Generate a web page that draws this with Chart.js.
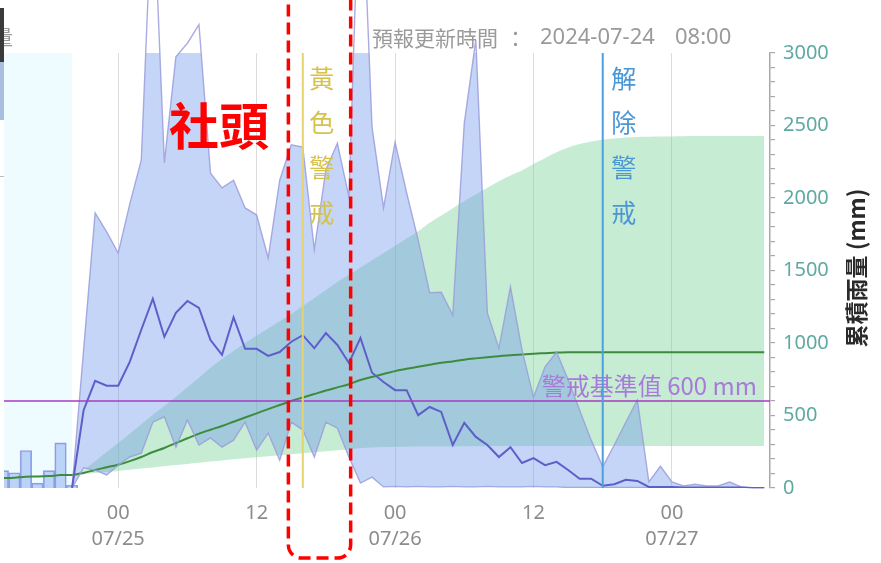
<!DOCTYPE html>
<html>
<head>
<meta charset="utf-8">
<script src="https://cdn.jsdelivr.net/npm/chart.js@4.4.1/dist/chart.umd.min.js"></script>
<style>
  html, body { margin: 0; padding: 0; background: #fff; }
  #wrap { position: relative; width: 881px; height: 563px; overflow: hidden; }
</style>
</head>
<body>
<div id="wrap"><canvas id="chart" width="881" height="563"></canvas></div>
<script>
'use strict';

// hours are counted from 2024-07-25 00:00
const obsHours = [-10, -9, -8, -7, -6, -5, -4];
const obsRain = [3.2, 2.8, 6.9, 0.9, 3.2, 8.3, 0.5];
const obsCum = [68, 71, 78, 79, 82, 89, 90];

const fcHours = [-4, -3, -2, -1, 0, 1, 2, 3, 4, 5, 6, 7, 8, 9, 10, 11, 12, 13, 14, 15, 16, 17, 18, 19, 20,
  21, 22, 23, 24, 25, 26, 27, 28, 29, 30, 31, 32, 33, 34, 35, 36, 37, 38, 39, 40, 41, 42, 43, 44, 45,
  46, 47, 48, 49, 50, 51, 52, 53, 54, 55, 56];

// hourly rainfall (mm/h)
const fcRainMax = [0, 25.4, 50.6, 47.1, 43.2, 52.2, 60.3, 111.6, 59.8, 79.3, 81.8, 85.2, 57.9, 55.2, 56.6,
  51.5, 50.2, 42.3, 56.6, 63.1, 62.7, 43.8, 58.5, 63.4, 53.5, 119.2, 66.4, 51.5, 63.6, 54.3, 45.6, 35.9,
  36.0, 31.8, 67.1, 82.4, 32.2, 25.7, 37.0, 25.4, 16.7, 22.3, 25.0, 19.9, 14.3, 8.8, 3.9, 7.9, 12.1, 16.2,
  1.1, 4.0, 1.1, 0.4, 0.7, 0.4, 0.4, 1.1, 0.2, 0, 0];
const fcRainMean = [0, 14.3, 19.7, 18.8, 18.8, 23.2, 29.1, 34.8, 27.8, 32.2, 34.4, 33.1, 27.2, 24.5, 31.4,
  25.6, 25.6, 24.3, 25.0, 26.9, 28.1, 25.7, 28.5, 26.3, 23.0, 27.6, 21.2, 19.5, 18.0, 18.0, 13.4, 14.9,
  14.0, 7.9, 12.0, 9.4, 7.9, 5.7, 7.5, 4.6, 5.5, 4.2, 4.8, 3.3, 1.7, 1.7, 0.4, 0.7, 1.5, 1.3,
  0.2, 0.2, 0.2, 0.1, 0.1, 0.1, 0.1, 0.1, 0.1, 0, 0];
const fcRainMin = [0, 3.7, 3.3, 2.4, 4.2, 5.7, 6.4, 12.1, 13.1, 7.5, 12.5, 7.9, 9.2, 7.5, 8.8,
  12.1, 7.0, 10.1, 5.1, 12.1, 10.7, 5.7, 12.1, 11.0, 5.7, 0.9, 2.0, 0.2, 0.3, 0.2, 0.3, 0.2,
  0.2, 0.3, 0.2, 0.2, 0.3, 0.2, 0.2, 0.2, 0.3, 0.2, 0.2, 0.1, 0.1, 0.1, 0.1, 0.1, 0.1, 0.1,
  0.1, 0.1, 0.1, 0, 0, 0, 0, 0, 0, 0, 0];

// accumulated rainfall (mm)
const fcCumMean = [90, 104, 124, 143, 160, 185, 214, 248, 276, 310, 343, 375, 402, 428, 457, 486, 515, 544,
  572, 600, 624, 648, 672, 694, 716, 745, 766, 786, 806, 822, 836, 850, 864, 873, 885, 894, 902, 909,
  916, 921, 926, 930, 934, 936, 937, 937, 937, 937, 937, 937, 937, 937, 937, 937, 937, 937, 937, 937,
  937, 937, 937];
const fcCumMax = [90, 125, 185, 248, 310, 375, 440, 505, 565, 630, 695, 760, 830, 890, 945, 1000, 1050,
  1100, 1150, 1200, 1255, 1310, 1365, 1420, 1470, 1520, 1570, 1620, 1670, 1720, 1770, 1830, 1880, 1930,
  1980, 2025, 2070, 2115, 2155, 2190, 2235, 2275, 2315, 2348, 2372, 2390, 2402, 2411, 2417, 2421,
  2423, 2424, 2425, 2426, 2427, 2428, 2428, 2428, 2428, 2428, 2428];
const fcCumMin = [90, 96, 103, 110, 118, 126, 134, 142, 150, 158, 166, 174, 182, 190, 198, 205, 212, 219,
  226, 233, 240, 247, 254, 261, 268, 274, 279, 282, 284, 285, 286, 286, 287, 287, 288, 288, 288, 289,
  289, 289, 289, 289, 289, 289, 289, 289, 289, 289, 289, 289, 290, 290, 290, 290, 290, 290, 290, 290,
  290, 290, 290];

const xTickHours = [0, 12, 24, 36, 48];
const xTickLabels = [['00', '07/25'], '12', ['00', '07/26'], '12', ['00', '07/27']];

const warnLevel = 600;
const yellowHour = 16;
const clearHour = 42;
const markBox = [14.75, 20.15];

const cjk = '"Noto Sans CJK TC", "Noto Sans", sans-serif';
const latin = '"Noto Sans", "Noto Sans CJK TC", sans-serif';

function pts(xs, ys) {
  return xs.map((h, i) => ({ x: h, y: ys[i] }));
}

function vText(ctx, chars, x, y0, step) {
  chars.split('').forEach((c, i) => ctx.fillText(c, x, y0 + i * step));
}

const decor = {
  id: 'decor',
  beforeDatasetsDraw(chart) {
    const { ctx, chartArea: a, scales: { x } } = chart;
    ctx.save();
    ctx.fillStyle = '#eefcff';
    ctx.fillRect(a.left, a.top, x.getPixelForValue(fcHours[0]) - a.left, a.bottom - a.top);
    ctx.restore();
  },
  afterDraw(chart) {
    const { ctx, chartArea: a, scales: { x, y } } = chart;
    ctx.save();

    // warning level
    const wy = y.getPixelForValue(warnLevel);
    ctx.strokeStyle = '#a63cc4';
    ctx.lineWidth = 1.6;
    ctx.beginPath(); ctx.moveTo(a.left, wy); ctx.lineTo(a.right, wy); ctx.stroke();
    ctx.fillStyle = '#a97ad9';
    ctx.font = '24px ' + cjk;
    ctx.textAlign = 'right';
    ctx.textBaseline = 'middle';
    ctx.fillText('警戒基準值 600 mm', 757, wy - 15);

    // yellow alert
    const yx = x.getPixelForValue(yellowHour);
    ctx.strokeStyle = '#e4d36f';
    ctx.lineWidth = 2;
    ctx.beginPath(); ctx.moveTo(yx, a.top); ctx.lineTo(yx, a.bottom); ctx.stroke();
    ctx.fillStyle = '#d6c24b';
    ctx.font = '25px ' + cjk;
    ctx.textAlign = 'center';
    vText(ctx, '黃色警戒', yx + 19, 78, 44.7);

    // alert cleared
    const cx = x.getPixelForValue(clearHour);
    ctx.strokeStyle = '#4c9fe0';
    ctx.beginPath(); ctx.moveTo(cx, a.top); ctx.lineTo(cx, a.bottom); ctx.stroke();
    ctx.fillStyle = '#4a97d6';
    vText(ctx, '解除警戒', cx + 21, 78, 44.7);

    // red dashed box
    const bx0 = x.getPixelForValue(markBox[0]);
    const bx1 = x.getPixelForValue(markBox[1]);
    ctx.strokeStyle = '#f00';
    ctx.lineWidth = 3.5;
    ctx.setLineDash([12, 6]);
    ctx.beginPath();
    ctx.roundRect(bx0, -30, bx1 - bx0, 588, 13);
    ctx.stroke();
    ctx.setLineDash([]);

    ctx.fillStyle = '#ff0000';
    ctx.font = 'bold 50px ' + cjk;
    ctx.fillText('社頭', 219, 126);

    // update time
    ctx.fillStyle = '#9a9a9a';
    ctx.textAlign = 'left';
    ctx.font = '21px ' + cjk;
    ctx.fillText('預報更新時間', 372, 38);
    ctx.fillText('：', 505, 38);
    ctx.font = '22px ' + latin;
    ctx.fillText('2024-07-24', 540, 38);
    ctx.fillText('08:00', 675, 38);

    // right axis title
    ctx.save();
    ctx.translate(856, 268);
    ctx.rotate(-Math.PI / 2);
    ctx.fillStyle = '#2a2a2a';
    ctx.font = 'bold 23px ' + cjk;
    ctx.textAlign = 'center';
    ctx.fillText('累積雨量 (mm)', 0, 0);
    ctx.restore();

    // cut-off page bits at the left edge
    ctx.fillStyle = '#9a9a9a';
    ctx.font = '20px ' + cjk;
    ctx.textAlign = 'right';
    ctx.fillText('量', 13, 37);
    ctx.fillStyle = '#3a3a3a';
    ctx.fillRect(0, 8, 4, 54);
    ctx.fillStyle = '#a8bfe2';
    ctx.fillRect(0, 62, 4, 58);
    ctx.fillStyle = '#bbbbbb';
    ctx.fillRect(0, 176, 4, 1);

    ctx.restore();
  }
};

const envLine = 'rgba(155,158,220,0.85)';

new Chart(document.getElementById('chart'), {
  type: 'line',
  data: {
    datasets: [
      { // 0 hourly mean
        data: pts(fcHours, fcRainMean), yAxisID: 'y1', order: 1,
        borderColor: '#5d5fc9', borderWidth: 2, pointRadius: 0, fill: false
      },
      { // 1 hourly upper bound line
        data: pts(fcHours, fcRainMax), yAxisID: 'y1', order: 2, clip: false,
        borderColor: envLine, borderWidth: 1.4, pointRadius: 0, fill: false
      },
      { // 2 hourly lower bound line
        data: pts(fcHours, fcRainMin), yAxisID: 'y1', order: 2,
        borderColor: envLine, borderWidth: 1.4, pointRadius: 0, fill: false
      },
      { // 3 hourly band fill
        data: pts(fcHours, fcRainMax), yAxisID: 'y1', order: 5,
        borderWidth: 0, pointRadius: 0, fill: 2, backgroundColor: 'rgba(110,150,235,0.4)'
      },
      { // 4 observed bars
        type: 'bar', data: pts(obsHours, obsRain), yAxisID: 'y1', order: 4,
        backgroundColor: 'rgba(110,150,235,0.4)', borderColor: 'rgba(140,150,225,0.9)', borderWidth: 1,
        barPercentage: 1, categoryPercentage: 1
      },
      { // 5 accumulated mean
        data: pts(obsHours, obsCum).concat(pts(fcHours, fcCumMean)), yAxisID: 'y', order: 3,
        borderColor: '#3d8c3d', borderWidth: 2, pointRadius: 0, fill: false,
        cubicInterpolationMode: 'monotone'
      },
      { // 6 accumulated upper bound with fill
        data: pts(fcHours, fcCumMax), yAxisID: 'y', order: 6,
        borderWidth: 0, pointRadius: 0, fill: 7, backgroundColor: 'rgba(120,210,150,0.42)',
        cubicInterpolationMode: 'monotone'
      },
      { // 7 accumulated lower bound
        data: pts(fcHours, fcCumMin), yAxisID: 'y', order: 7,
        borderWidth: 0, pointRadius: 0, fill: false,
        cubicInterpolationMode: 'monotone'
      }
    ]
  },
  options: {
    responsive: false,
    animation: false,
    devicePixelRatio: 1,
    layout: { padding: { left: 4, top: 53, right: 0, bottom: 0 } },
    plugins: { legend: { display: false }, tooltip: { enabled: false } },
    scales: {
      x: {
        type: 'linear', position: 'bottom', min: -9.9, max: 56.5, offset: false,
        afterBuildTicks: (scale) => { scale.ticks = xTickHours.map(v => ({ value: v })); },
        afterFit: (scale) => { scale.height = 75; },
        grid: { color: '#dcdcdc', lineWidth: 1, drawTicks: false, offset: false },
        border: { display: false },
        ticks: {
          autoSkip: false, maxRotation: 0, padding: 12, color: '#8c8c8c',
          font: { size: 20, family: latin, lineHeight: 1.3 },
          callback: (v) => xTickLabels[xTickHours.indexOf(v)]
        }
      },
      y: {
        position: 'right', min: 0, max: 3000,
        afterFit: (scale) => { scale.width = 111; },
        grid: { drawOnChartArea: false, tickLength: 5, tickColor: '#a8a8a8', lineWidth: 1.2 },
        border: { display: true, color: '#a8a8a8', width: 1.5 },
        ticks: {
          stepSize: 100, autoSkip: false, padding: 8, color: '#5fa9a3',
          font: { size: 20, family: latin },
          callback: (v) => (v % 500 === 0 ? v : '')
        }
      },
      y1: { display: false, min: 0, max: 80 }
    }
  },
  plugins: [decor]
});
</script>
</body>
</html>
